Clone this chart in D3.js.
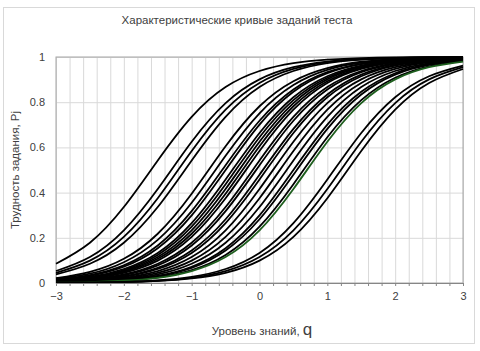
<!DOCTYPE html>
<html>
<head>
<meta charset="utf-8">
<script src="https://cdn.jsdelivr.net/npm/d3@7"></script>
<style>
  body { margin: 0; background: #fff; }
  text { font-family: "Liberation Sans", Arial, sans-serif; fill: #404040; }
</style>
</head>
<body>
<div class="chart"></div>
<script>
// Size of the picture and of the plot area
const WIDTH = 480;
const HEIGHT = 351;
const MARGIN = { top: 57, right: 17, bottom: 68, left: 56 };

// Knowledge level values where each curve was read
const qLevels = [-3, -2.5, -2, -1.5, -1, -0.5, 0, 0.5, 1, 1.5, 2, 2.5, 3];

// Probability of success for each test item at qLevels
const itemCurves = [
  [0.085, 0.178, 0.336, 0.542, 0.735, 0.867, 0.938, 0.973, 0.988, 0.995, 0.998, 0.999, 1.0],
  [0.053, 0.115, 0.233, 0.416, 0.625, 0.796, 0.901, 0.955, 0.98, 0.991, 0.996, 0.998, 0.999],
  [0.045, 0.099, 0.204, 0.375, 0.584, 0.767, 0.885, 0.947, 0.977, 0.99, 0.996, 0.998, 0.999],
  [0.038, 0.085, 0.178, 0.336, 0.542, 0.735, 0.867, 0.938, 0.973, 0.988, 0.995, 0.998, 0.999],
  [0.021, 0.049, 0.107, 0.218, 0.395, 0.605, 0.782, 0.893, 0.951, 0.979, 0.991, 0.996, 0.998],
  [0.018, 0.041, 0.092, 0.191, 0.355, 0.563, 0.751, 0.876, 0.943, 0.975, 0.989, 0.995, 0.998],
  [0.015, 0.035, 0.078, 0.166, 0.318, 0.521, 0.718, 0.856, 0.933, 0.97, 0.987, 0.994, 0.997],
  [0.014, 0.032, 0.072, 0.154, 0.299, 0.5, 0.701, 0.846, 0.928, 0.968, 0.986, 0.994, 0.997],
  [0.012, 0.027, 0.062, 0.133, 0.265, 0.458, 0.664, 0.822, 0.915, 0.962, 0.983, 0.993, 0.997],
  [0.011, 0.025, 0.057, 0.124, 0.249, 0.437, 0.645, 0.809, 0.908, 0.959, 0.982, 0.992, 0.997],
  [0.01, 0.023, 0.053, 0.115, 0.233, 0.416, 0.625, 0.796, 0.901, 0.955, 0.98, 0.991, 0.996],
  [0.009, 0.021, 0.049, 0.107, 0.218, 0.395, 0.605, 0.782, 0.893, 0.951, 0.979, 0.991, 0.996],
  [0.009, 0.02, 0.045, 0.099, 0.204, 0.375, 0.584, 0.767, 0.885, 0.947, 0.977, 0.99, 0.996],
  [0.007, 0.017, 0.038, 0.085, 0.178, 0.336, 0.542, 0.735, 0.867, 0.938, 0.973, 0.988, 0.995],
  [0.007, 0.015, 0.035, 0.078, 0.166, 0.318, 0.521, 0.718, 0.856, 0.933, 0.97, 0.987, 0.994],
  [0.006, 0.013, 0.03, 0.067, 0.144, 0.282, 0.479, 0.682, 0.834, 0.922, 0.965, 0.985, 0.993],
  [0.005, 0.012, 0.027, 0.062, 0.133, 0.265, 0.458, 0.664, 0.822, 0.915, 0.962, 0.983, 0.993],
  [0.004, 0.01, 0.023, 0.053, 0.115, 0.233, 0.416, 0.625, 0.796, 0.901, 0.955, 0.98, 0.991],
  [0.004, 0.009, 0.02, 0.045, 0.099, 0.204, 0.375, 0.584, 0.767, 0.885, 0.947, 0.977, 0.99],
  [0.003, 0.007, 0.017, 0.038, 0.085, 0.178, 0.336, 0.542, 0.735, 0.867, 0.938, 0.973, 0.988],
  [0.003, 0.006, 0.014, 0.032, 0.072, 0.154, 0.299, 0.5, 0.701, 0.846, 0.928, 0.968, 0.986],
  [0.002, 0.006, 0.013, 0.03, 0.067, 0.144, 0.282, 0.479, 0.682, 0.834, 0.922, 0.965, 0.985],
  [0.002, 0.005, 0.011, 0.025, 0.057, 0.124, 0.249, 0.437, 0.645, 0.809, 0.908, 0.959, 0.982],
  [0.002, 0.004, 0.01, 0.023, 0.053, 0.115, 0.233, 0.416, 0.625, 0.796, 0.901, 0.955, 0.98],
  [0.001, 0.002, 0.005, 0.012, 0.027, 0.062, 0.133, 0.265, 0.458, 0.664, 0.822, 0.915, 0.962],
  [0.001, 0.002, 0.004, 0.01, 0.023, 0.053, 0.115, 0.233, 0.416, 0.625, 0.796, 0.901, 0.955],
  [0.001, 0.002, 0.004, 0.009, 0.02, 0.045, 0.099, 0.204, 0.375, 0.584, 0.767, 0.885, 0.947],
];

// The one curve drawn in dark green
const greenItem = 23;

// Tick labels
const xTicks = [-3, -2, -1, 0, 1, 2, 3];
const yTicks = [0, 0.2, 0.4, 0.6, 0.8, 1];

const innerW = WIDTH - MARGIN.left - MARGIN.right;
const innerH = HEIGHT - MARGIN.top - MARGIN.bottom;

var svg = d3
  .select(".chart")
  .append("svg")
  .attr("width", WIDTH)
  .attr("height", HEIGHT);

// outer chart border
svg
  .append("rect")
  .attr("x", 3.5)
  .attr("y", 7.5)
  .attr("width", 471)
  .attr("height", 336)
  .attr("fill", "none")
  .attr("stroke", "#d9d9d9");

var x = d3.scaleLinear().domain([-3, 3]).range([0, innerW]);
var y = d3.scaleLinear().domain([0, 1]).range([innerH, 0]);

var g = svg
  .append("g")
  .attr("transform", "translate(" + MARGIN.left + "," + MARGIN.top + ")");

// grid lines every 0.2
g.append("g")
  .call(d3.axisBottom(x).tickValues(d3.range(-3, 3.001, 0.2)).tickSize(innerH).tickFormat(""))
  .call((a) => a.select(".domain").remove())
  .call((a) => a.selectAll(".tick line").attr("stroke", "#d9d9d9"));

g.append("g")
  .call(d3.axisRight(y).tickValues(yTicks).tickSize(innerW).tickFormat(""))
  .call((a) => a.select(".domain").remove())
  .call((a) => a.selectAll(".tick line").attr("stroke", "#d9d9d9"));

// plot frame
g.append("rect")
  .attr("width", innerW)
  .attr("height", innerH)
  .attr("fill", "none")
  .attr("stroke", "#a6a6a6");

// curves
var LineValue = d3
  .line()
  .x((d, i) => x(qLevels[i]))
  .y((d) => y(d))
  .curve(d3.curveNatural);

g.append("g")
  .selectAll("path")
  .data(itemCurves)
  .join("path")
  .attr("d", LineValue)
  .attr("fill", "none")
  .attr("stroke", (d, i) => (i === greenItem ? "#1e5e1e" : "#000"))
  .attr("stroke-width", 1.8);

// x axis
g.append("g")
  .attr("transform", "translate(0," + innerH + ")")
  .call(d3.axisBottom(x).tickValues(d3.range(-3, 3.001, 0.2)).tickSize(3).tickFormat(""))
  .call((a) => a.select(".domain").attr("stroke", "#868686"))
  .call((a) => a.selectAll(".tick line").attr("stroke", "#868686"));

g.append("g")
  .attr("transform", "translate(0," + innerH + ")")
  .call(d3.axisBottom(x).tickValues(xTicks).tickSize(0).tickPadding(9).tickFormat(d3.format("d")))
  .call((a) => a.select(".domain").remove())
  .call((a) => a.selectAll(".tick text").attr("font-size", 11).attr("fill", "#404040").style("font-family", "Liberation Sans, Arial, sans-serif"));

// y axis
g.append("g")
  .call(d3.axisLeft(y).tickValues(yTicks).tickSize(0).tickPadding(11).tickFormat((d) => String(d)))
  .call((a) => a.select(".domain").remove())
  .call((a) => a.selectAll(".tick text").attr("font-size", 11).attr("fill", "#404040").style("font-family", "Liberation Sans, Arial, sans-serif"));

// title
svg
  .append("text")
  .attr("x", 237)
  .attr("y", 24)
  .attr("text-anchor", "middle")
  .attr("font-size", 11.5)
  .text("Характеристические кривые заданий теста");

// y label
svg
  .append("text")
  .attr("transform", "translate(19," + (MARGIN.top + innerH / 2) + ") rotate(-90)")
  .attr("text-anchor", "middle")
  .attr("font-size", 11.5)
  .text("Трудность задания, Pj");

// x label
var xl = svg
  .append("text")
  .attr("x", 262)
  .attr("y", 335)
  .attr("text-anchor", "middle")
  .attr("font-size", 11.5);
xl.append("tspan").text("Уровень знаний, ");
xl.append("tspan").attr("font-size", 17).text("q");
</script>
</body>
</html>
